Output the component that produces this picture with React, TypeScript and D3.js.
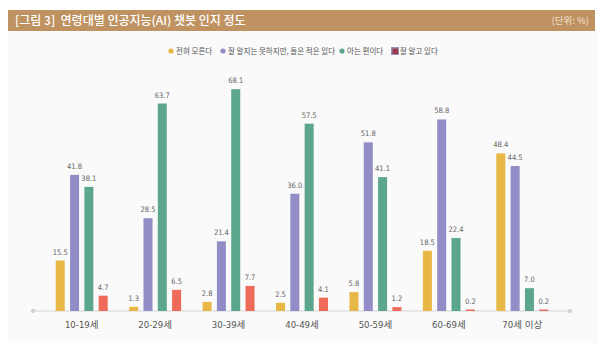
import React, { useRef, useEffect } from "react";
import * as d3 from "d3";

const ageGroups = ["10-19세", "20-29세", "30-39세", "40-49세", "50-59세", "60-69세", "70세 이상"];
const seriesNames = ["전혀 모른다", "잘 알지는 못하지만, 들은 적은 있다", "아는 편이다", "잘 알고 있다"];
const dontKnow = [15.5, 1.3, 2.8, 2.5, 5.8, 18.5, 48.4];
const heardOf = [41.8, 28.5, 21.4, 36.0, 51.8, 58.8, 44.5];
const knowSome = [38.1, 63.7, 68.1, 57.5, 41.1, 22.4, 7.0];
const knowWell = [4.7, 6.5, 7.7, 4.1, 1.2, 0.2, 0.2];
const seriesColors = ["#e8b847", "#928dc6", "#5ca68b", "#ee6b5c"];

const title = "[그림 3]  연령대별 인공지능(AI) 챗봇 인지 정도";
const unitLabel = "(단위: %)";

const W = 602;
const H = 362;
const narrow = "'Liberation Sans Narrow', 'DejaVu Sans Condensed', 'Noto Sans CJK KR', sans-serif";
const kr = "'Noto Sans CJK KR', 'Noto Sans', sans-serif";

export default function App() {
  const ref = useRef<SVGSVGElement>(null);

  useEffect(() => {
    const svg = d3.select(ref.current);
    svg.selectAll("*").remove();

    const allSeries = [dontKnow, heardOf, knowSome, knowWell];

    // background panel
    svg.append("rect").attr("width", W).attr("height", H).attr("fill", "#ffffff");
    svg.append("rect").attr("x", 8).attr("y", 31).attr("width", 589).attr("height", 312).attr("fill", "#fafafa");

    // title bar
    svg.append("rect").attr("x", 8).attr("y", 10).attr("width", 587).attr("height", 21).attr("fill", "#bf9262");
    svg.append("text")
      .attr("x", 15).attr("y", 24.5)
      .attr("fill", "#ffffff")
      .style("font-family", kr).style("font-size", "12px").style("font-weight", 500)
      .style("white-space", "pre")
      .text(title);
    svg.append("text")
      .attr("x", 589).attr("y", 24)
      .attr("text-anchor", "end")
      .attr("fill", "#f1e2cf")
      .style("font-family", kr).style("font-size", "9.5px")
      .text(unitLabel);

    // legend
    const legendX = [171, 223, 342, 395];
    const lg = svg.append("g").attr("transform", "translate(0,51)");
    seriesNames.forEach((name, i) => {
      const g = lg.append("g").attr("transform", `translate(${legendX[i]},0)`);
      if (i === 3) {
        g.append("rect").attr("x", -4).attr("y", -4).attr("width", 8).attr("height", 8)
          .attr("fill", "#9c8fb8");
        g.append("rect").attr("x", -2.5).attr("y", -2.5).attr("width", 5.5).attr("height", 5.5)
          .attr("fill", "#9b3c4e");
      } else {
        g.append("circle").attr("r", 2.6).attr("fill", seriesColors[i]);
      }
      g.append("text")
        .attr("x", 5).attr("y", 2.8)
        .attr("fill", "#555")
        .style("font-family", kr).style("font-size", "7.5px")
        .text(name);
    });

    // scales
    const x0 = d3.scaleBand<string>().domain(ageGroups).range([45, 559]);
    const x1 = d3.scaleBand<number>()
      .domain([0, 1, 2, 3])
      .range([0, x0.bandwidth()])
      .paddingInner(0.37)
      .paddingOuter(0.75);
    const y = d3.scaleLinear().domain([0, 70]).range([311, 83]);

    // baseline axis
    const axisY = y(0);
    svg.append("line")
      .attr("x1", 33).attr("x2", 570).attr("y1", axisY).attr("y2", axisY)
      .attr("stroke", "#d3d3d3").attr("stroke-width", 1.2);
    [33, 570].forEach((cx) =>
      svg.append("circle").attr("cx", cx).attr("cy", axisY).attr("r", 2.2).attr("fill", "#d3d3d3")
    );

    // bars
    const groups = svg.append("g")
      .selectAll("g")
      .data(ageGroups)
      .join("g")
      .attr("transform", (d) => `translate(${x0(d)},0)`);

    groups.each(function (age, gi) {
      const g = d3.select(this);
      allSeries.forEach((vals, si) => {
        const v = vals[gi];
        const h = Math.max(y(0) - y(v), 1.5);
        g.append("rect")
          .attr("x", x1(si)!)
          .attr("y", y(0) - h)
          .attr("width", x1.bandwidth())
          .attr("height", h)
          .attr("fill", seriesColors[si]);
        g.append("text")
          .attr("x", x1(si)! + x1.bandwidth() / 2)
          .attr("y", y(0) - h - 6)
          .attr("text-anchor", "middle")
          .attr("fill", "#666")
          .style("font-family", narrow).style("font-size", "7.5px")
          .text(v.toFixed(1));
      });
      g.append("text")
        .attr("x", x0.bandwidth() / 2)
        .attr("y", 327.5)
        .attr("text-anchor", "middle")
        .attr("fill", "#555")
        .style("font-family", narrow).style("font-size", "9.5px")
        .text(age);
    });
  }, []);

  return (
    <div style={{ position: "absolute", left: 0, top: 0 }}>
      <svg ref={ref} width={W} height={H} style={{ display: "block" }} />
    </div>
  );
}
